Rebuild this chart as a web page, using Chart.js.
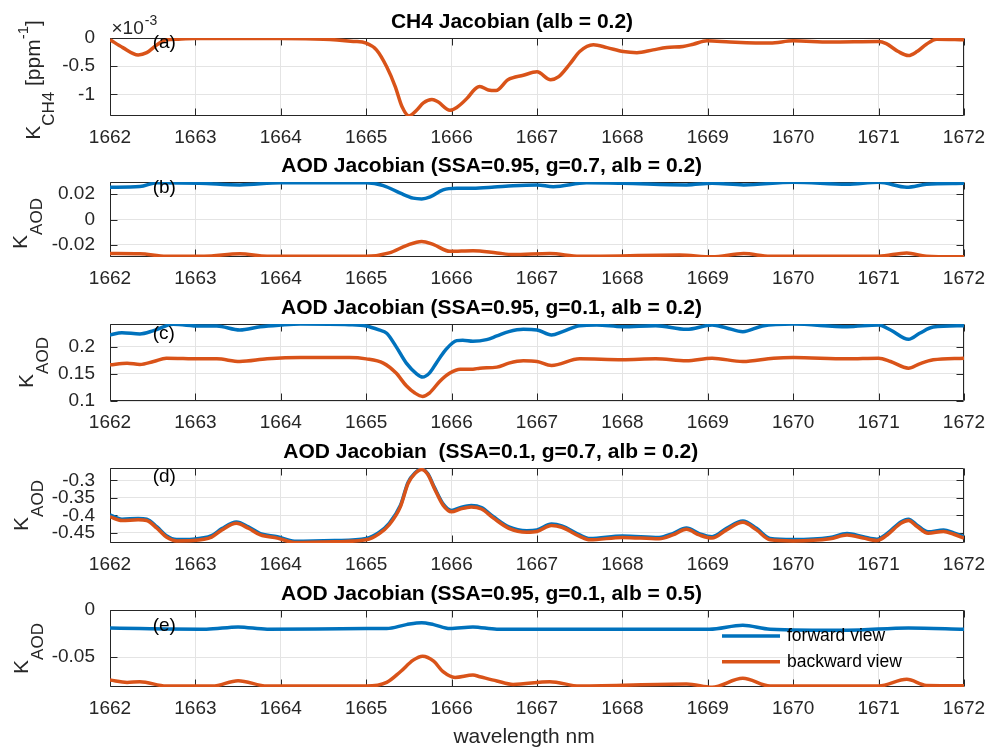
<!DOCTYPE html>
<html>
<head>
<meta charset="utf-8">
<title>CH4 and AOD Jacobians</title>
<script src="https://cdn.jsdelivr.net/npm/chart.js@4.4.1/dist/chart.umd.min.js"></script>
<style>
  html, body { margin: 0; padding: 0; background: #fff; }
  #fig { position: relative; width: 985px; height: 751px; overflow: hidden; background: #fff; }
  #fig canvas { position: absolute; left: 0; }
</style>
</head>
<body>
<div id="fig"></div>
<script>
// ---------------------------------------------------------------
// Data: wavelength (nm) and Jacobian values for each panel
// ---------------------------------------------------------------

// (a) CH4 Jacobian, alb = 0.2  (units of 1e-3 ppm^-1)
const waveA = [1662.0, 1662.15, 1662.33, 1662.43, 1662.55, 1662.66, 1662.8, 1663.0, 1663.5, 1664.0,
  1664.5, 1664.85, 1665.0, 1665.12, 1665.24, 1665.34, 1665.42, 1665.5, 1665.59, 1665.67,
  1665.77, 1665.84, 1665.98, 1666.06, 1666.18, 1666.27, 1666.33, 1666.43, 1666.52, 1666.66,
  1666.84, 1667.0, 1667.16, 1667.25, 1667.39, 1667.5, 1667.66, 1667.82, 1668.01, 1668.17,
  1668.36, 1668.52, 1668.71, 1668.83, 1668.99, 1669.26, 1669.73, 1670.0, 1670.43, 1671.0,
  1671.09, 1671.23, 1671.35, 1671.45, 1671.56, 1671.68, 1672.0];
const ch4Back = [-0.03, -0.17, -0.30, -0.26, -0.12, -0.03, -0.02, -0.01, -0.01, -0.01,
  -0.02, -0.06, -0.09, -0.21, -0.51, -0.86, -1.22, -1.38, -1.28, -1.15,
  -1.09, -1.13, -1.28, -1.23, -1.07, -0.91, -0.86, -0.92, -0.93, -0.74,
  -0.66, -0.60, -0.74, -0.69, -0.45, -0.24, -0.12, -0.17, -0.24, -0.26,
  -0.21, -0.17, -0.15, -0.11, -0.05, -0.07, -0.09, -0.05, -0.07, -0.06,
  -0.10, -0.24, -0.31, -0.24, -0.11, -0.02, -0.03];
const ticksA = [-1, -0.5, 0];

// (b) AOD Jacobian, SSA=0.95, g=0.7, alb=0.2
const waveB_fwd = [1662.0, 1662.35, 1662.55, 1663.05, 1663.52, 1664.0, 1665.0, 1665.2, 1665.4, 1665.55,
  1665.65, 1665.75, 1665.9, 1666.06, 1666.25, 1666.5, 1666.72, 1667.0, 1667.19, 1667.58,
  1668.0, 1668.75, 1669.05, 1669.42, 1670.0, 1670.63, 1671.0, 1671.33, 1671.56, 1672.0];
const aodB_fwd = [0.0255, 0.026, 0.029, 0.0286, 0.0273, 0.029, 0.029, 0.0268, 0.0208, 0.0169,
  0.0163, 0.0179, 0.0234, 0.0246, 0.0246, 0.0256, 0.0267, 0.0273, 0.0259, 0.029,
  0.0286, 0.0273, 0.0286, 0.0273, 0.0294, 0.0278, 0.0294, 0.0255, 0.0278, 0.0286];
const waveB_bwd = [1662.0, 1662.35, 1662.66, 1663.1, 1663.52, 1663.84, 1665.0, 1665.27, 1665.47, 1665.65,
  1665.79, 1665.98, 1666.25, 1666.53, 1666.72, 1667.15, 1667.5, 1668.67, 1669.05, 1669.42,
  1669.73, 1671.0, 1671.33, 1671.56, 1672.0];
const aodB_bwd = [-0.0268, -0.027, -0.0289, -0.0289, -0.027, -0.0289, -0.0289, -0.0263, -0.0205, -0.0172,
  -0.0198, -0.025, -0.0245, -0.0263, -0.0276, -0.0268, -0.0289, -0.028, -0.0294, -0.0268,
  -0.0289, -0.0289, -0.0263, -0.0289, -0.0294];
const ticksB = [-0.02, 0, 0.02];

// (c) AOD Jacobian, SSA=0.95, g=0.1, alb=0.2
const waveC_fwd = [1662.0, 1662.14, 1662.35, 1662.51, 1662.74, 1663.05, 1663.25, 1663.52, 1663.76, 1664.0,
  1664.23, 1664.8, 1665.0, 1665.15, 1665.24, 1665.35, 1665.47, 1665.59, 1665.66, 1665.74,
  1665.82, 1665.93, 1666.06, 1666.13, 1666.25, 1666.41, 1666.53, 1666.67, 1666.84, 1667.0,
  1667.17, 1667.3, 1667.5, 1667.7, 1668.0, 1668.39, 1668.75, 1669.05, 1669.21, 1669.41,
  1669.64, 1670.0, 1670.63, 1671.0, 1671.14, 1671.35, 1671.48, 1671.64, 1672.0];
const aodC_fwd = [0.2214, 0.2257, 0.2233, 0.2293, 0.241, 0.2379, 0.2379, 0.2306, 0.2366, 0.2397,
  0.2415, 0.2403, 0.2379, 0.2306, 0.2245, 0.2, 0.1696, 0.15, 0.144, 0.1513,
  0.1696, 0.194, 0.211, 0.2116, 0.2098, 0.2128, 0.2196, 0.2275, 0.2318, 0.2306,
  0.2214, 0.2275, 0.2385, 0.2397, 0.2366, 0.2385, 0.2318, 0.2397, 0.2348, 0.2275,
  0.2379, 0.2415, 0.2366, 0.2397, 0.2306, 0.2135, 0.2245, 0.236, 0.2385];
const waveC_bwd = [1662.0, 1662.2, 1662.35, 1662.51, 1662.66, 1663.05, 1663.25, 1663.52, 1663.84, 1664.23,
  1664.8, 1665.0, 1665.2, 1665.35, 1665.47, 1665.57, 1665.66, 1665.74, 1665.86, 1665.98,
  1666.1, 1666.25, 1666.33, 1666.53, 1666.67, 1666.84, 1667.0, 1667.17, 1667.5, 1668.0,
  1668.39, 1668.75, 1669.05, 1669.41, 1669.77, 1670.0, 1670.63, 1671.0, 1671.14, 1671.35,
  1671.48, 1671.64, 1672.0];
const aodC_bwd = [0.1665, 0.1696, 0.1671, 0.1726, 0.1787, 0.1775, 0.1775, 0.1726, 0.1775, 0.18,
  0.18, 0.1775, 0.1696, 0.1513, 0.128, 0.1146, 0.1085, 0.1146, 0.1359, 0.1513,
  0.1586, 0.1586, 0.1604, 0.1623, 0.1696, 0.1739, 0.1726, 0.1653, 0.1775, 0.1757,
  0.1775, 0.1739, 0.1787, 0.1726, 0.1787, 0.18, 0.1775, 0.1787, 0.1726, 0.1604,
  0.1684, 0.1757, 0.1787];
const ticksC = [0.1, 0.15, 0.2];

// (d) AOD Jacobian, SSA=0.1, g=0.7, alb=0.2
const waveD = [1662.0, 1662.14, 1662.33, 1662.43, 1662.55, 1662.66, 1662.78, 1662.97, 1663.19, 1663.31,
  1663.48, 1663.62, 1663.76, 1663.96, 1664.16, 1664.63, 1665.0, 1665.15, 1665.27, 1665.4,
  1665.49, 1665.57, 1665.65, 1665.72, 1665.8, 1665.9, 1666.0, 1666.1, 1666.23, 1666.35,
  1666.49, 1666.67, 1666.88, 1667.0, 1667.17, 1667.29, 1667.5, 1667.62, 1668.0, 1668.43,
  1668.59, 1668.75, 1668.9, 1669.05, 1669.22, 1669.41, 1669.57, 1669.73, 1670.0, 1670.43,
  1670.63, 1670.82, 1670.98, 1671.1, 1671.26, 1671.35, 1671.45, 1671.58, 1671.76, 1671.88,
  1672.0];
const aodD_fwd = [-0.399, -0.411, -0.409, -0.411, -0.433, -0.458, -0.469, -0.468, -0.458, -0.438,
  -0.419, -0.433, -0.452, -0.461, -0.474, -0.472, -0.466, -0.449, -0.423, -0.372,
  -0.306, -0.279, -0.268, -0.281, -0.321, -0.367, -0.386, -0.378, -0.372, -0.378,
  -0.404, -0.433, -0.444, -0.442, -0.425, -0.430, -0.456, -0.466, -0.459, -0.463,
  -0.452, -0.436, -0.452, -0.461, -0.437, -0.416, -0.437, -0.466, -0.469, -0.463,
  -0.452, -0.461, -0.468, -0.452, -0.419, -0.411, -0.428, -0.447, -0.442, -0.450,
  -0.461];
const aodD_bwd = [-0.404, -0.415, -0.413, -0.415, -0.437, -0.462, -0.473, -0.472, -0.462, -0.442,
  -0.423, -0.437, -0.456, -0.465, -0.4775, -0.4755, -0.47, -0.453, -0.427, -0.376,
  -0.309, -0.281, -0.269, -0.283, -0.324, -0.371, -0.39, -0.382, -0.376, -0.382,
  -0.408, -0.437, -0.448, -0.446, -0.429, -0.434, -0.46, -0.47, -0.463, -0.467,
  -0.456, -0.44, -0.456, -0.465, -0.4415, -0.42, -0.4415, -0.47, -0.473, -0.467,
  -0.456, -0.465, -0.472, -0.456, -0.423, -0.415, -0.432, -0.451, -0.446, -0.454,
  -0.465];
const ticksD = [-0.45, -0.4, -0.35, -0.3];

// (e) AOD Jacobian, SSA=0.95, g=0.1, alb=0.5
const waveE_fwd = [1662.0, 1662.35, 1663.13, 1663.5, 1663.84, 1665.0, 1665.24, 1665.47, 1665.65, 1665.79,
  1665.98, 1666.25, 1666.53, 1666.72, 1669.02, 1669.41, 1669.73, 1670.63, 1671.35, 1672.0];
const aodE_fwd = [-0.019, -0.0197, -0.0204, -0.018, -0.0204, -0.0197, -0.0197, -0.0155, -0.0134, -0.0155,
  -0.0197, -0.018, -0.0204, -0.0204, -0.0204, -0.0162, -0.0204, -0.0215, -0.019, -0.0204];
const waveE_bwd = [1662.0, 1662.2, 1662.35, 1662.66, 1663.2, 1663.5, 1663.84, 1665.0, 1665.24, 1665.4,
  1665.55, 1665.66, 1665.79, 1665.9, 1666.04, 1666.25, 1666.33, 1666.53, 1666.72, 1667.15,
  1667.5, 1668.75, 1669.05, 1669.41, 1669.73, 1671.0, 1671.33, 1671.56, 1672.0];
const aodE_bwd = [-0.0743, -0.0768, -0.076, -0.0807, -0.0807, -0.075, -0.0807, -0.0807, -0.0768, -0.0655,
  -0.0532, -0.049, -0.0543, -0.0655, -0.0715, -0.069, -0.0708, -0.0753, -0.079, -0.076,
  -0.0807, -0.0786, -0.082, -0.0725, -0.0807, -0.0807, -0.0736, -0.08, -0.0803];
const ticksE = [-0.05, 0];

const seriesNames = ['forward view', 'backward view'];

// ---------------------------------------------------------------
// Styling
// ---------------------------------------------------------------
const FONT = '"Liberation Sans", Arial, Helvetica, sans-serif';
const INK = '#262626';
const GRID = '#e4e4e4';
const BLUE = '#0072BD';
const ORANGE = '#D95319';
const LINE_W = 3.5;
const PLOT_LEFT = 110;
const PLOT_RIGHT = 964;
const HEAD = 45;     // canvas space above each axes box
const FOOT = 80;     // canvas space below each axes box
const TICK_LEN = 7;

Chart.defaults.font.family = FONT;
Chart.defaults.color = INK;

const fwd = (x, y) => ({ x, y, color: BLUE, order: 1 });
const bwd = (x, y) => ({ x, y, color: ORANGE, order: 0 });

const subK = (sub) => [['K', 21, 0], [sub, 17, 15]];

const panels = [
  { top: 38, bottom: 116, yMin: -1.382, yMax: 0, yTicks: ticksA,
    series: [bwd(waveA, ch4Back)],
    title: 'CH4 Jacobian (alb = 0.2)', titleX: 512,
    tag: '(a)', tagY: -0.084,
    ylabel: [['K', 21, 0], ['CH4', 17, 14], [' [ppm', 21, 0], ['-1', 15, -12], [']', 21, 0]],
    ylabelX: 39.5, ylabelShift: 3, exponent: true },
  { top: 182, bottom: 257, yMin: -0.0295, yMax: 0.0296, yTicks: ticksB,
    series: [fwd(waveB_fwd, aodB_fwd), bwd(waveB_bwd, aodB_bwd)],
    title: 'AOD Jacobian (SSA=0.95, g=0.7, alb = 0.2)', titleX: 491.7,
    tag: '(b)', tagY: 0.0253, ylabel: subK('AOD'), ylabelX: 27, ylabelShift: 4 },
  { top: 324, bottom: 401, yMin: 0.1, yMax: 0.2416, yTicks: ticksC,
    series: [fwd(waveC_fwd, aodC_fwd), bwd(waveC_bwd, aodC_bwd)],
    title: 'AOD Jacobian (SSA=0.95, g=0.1, alb = 0.2)', titleX: 491.5,
    tag: '(c)', tagY: 0.2233, ylabel: subK('AOD'), ylabelX: 33, ylabelShift: 0 },
  { top: 468, bottom: 543, yMin: -0.479, yMax: -0.265, yTicks: ticksD,
    series: [fwd(waveD, aodD_fwd), bwd(waveD, aodD_bwd)],
    title: 'AOD Jacobian  (SSA=0.1, g=0.7, alb = 0.2)', titleX: 490.7,
    tag: '(d)', tagY: -0.290, ylabel: subK('AOD'), ylabelX: 28, ylabelShift: 0 },
  { top: 610, bottom: 687, yMin: -0.0817, yMax: 0, yTicks: ticksE,
    series: [fwd(waveE_fwd, aodE_fwd), bwd(waveE_bwd, aodE_bwd)],
    title: 'AOD Jacobian (SSA=0.95, g=0.1, alb = 0.5)', titleX: 491.5,
    tag: '(e)', tagY: -0.0172, ylabel: subK('AOD'), ylabelX: 28, ylabelShift: 0,
    legend: true, xlabel: 'wavelength nm', xlabelX: 524 }
];

const fmt = (v) => String(+(+v).toFixed(4));

// Draws a run of text pieces (with raised / lowered parts), rotated to read upward.
function drawRotatedRich(ctx, parts, bx, cy) {
  ctx.save();
  ctx.translate(bx, cy);
  ctx.rotate(-Math.PI / 2);
  ctx.textAlign = 'left';
  ctx.textBaseline = 'alphabetic';
  ctx.fillStyle = INK;
  let total = 0;
  parts.forEach(([t, sz]) => { ctx.font = `${sz}px ${FONT}`; total += ctx.measureText(t).width; });
  let u = -total / 2;
  parts.forEach(([t, sz, dv]) => {
    ctx.font = `${sz}px ${FONT}`;
    ctx.fillText(t, u, dv);
    u += ctx.measureText(t).width;
  });
  ctx.restore();
}

// Boxed axes with inward ticks on all four sides, plus titles and labels.
const axesBox = {
  id: 'axesBox',
  beforeDatasetsDraw(chart) {
    const { ctx, chartArea: a, scales: { x, y } } = chart;
    const L = Math.round(a.left) + 0.5, R = Math.round(a.right) - 0.5;
    const T = Math.round(a.top) + 0.5, B = Math.round(a.bottom) - 0.5;
    ctx.save();
    ctx.strokeStyle = INK;
    ctx.lineWidth = 1;
    ctx.beginPath();
    x.ticks.forEach(t => {
      const p = Math.round(x.getPixelForValue(t.value)) + 0.5;
      ctx.moveTo(p, B); ctx.lineTo(p, B - TICK_LEN);
      ctx.moveTo(p, T); ctx.lineTo(p, T + TICK_LEN);
    });
    y.ticks.forEach(t => {
      const p = Math.round(y.getPixelForValue(t.value)) + 0.5;
      ctx.moveTo(L, p); ctx.lineTo(L + TICK_LEN, p);
      ctx.moveTo(R, p); ctx.lineTo(R - TICK_LEN, p);
    });
    ctx.rect(L, T, R - L, B - T);
    ctx.stroke();
    ctx.restore();
  },
  afterDraw(chart, args, p) {
    const { ctx, chartArea: a, scales: { x, y } } = chart;
    ctx.save();
    // title
    ctx.fillStyle = '#000';
    ctx.font = `bold 21px ${FONT}`;
    ctx.textAlign = 'center';
    ctx.textBaseline = 'alphabetic';
    ctx.fillText(p.title, p.titleX, a.top - 10.5);
    // panel tag
    ctx.font = `19px ${FONT}`;
    ctx.textAlign = 'left';
    ctx.textBaseline = 'middle';
    ctx.fillText(p.tag, x.getPixelForValue(1662.5), y.getPixelForValue(p.tagY));
    // exponent marker
    if (p.exponent) {
      ctx.fillStyle = INK;
      ctx.textBaseline = 'alphabetic';
      ctx.font = `19px ${FONT}`;
      ctx.fillText('\u00d710', a.left + 1.5, a.top - 4);
      const w = ctx.measureText('\u00d710').width;
      ctx.font = `14px ${FONT}`;
      ctx.fillText('-3', a.left + 2.5 + w, a.top - 13.5);
    }
    // legend
    if (p.legend) {
      const rows = [[BLUE, seriesNames[0], 26], [ORANGE, seriesNames[1], 51.7]];
      ctx.font = `17.5px ${FONT}`;
      ctx.textBaseline = 'middle';
      rows.forEach(([c, label, dy]) => {
        ctx.strokeStyle = c;
        ctx.lineWidth = LINE_W;
        ctx.beginPath();
        ctx.moveTo(a.left + 612, a.top + dy);
        ctx.lineTo(a.left + 670, a.top + dy);
        ctx.stroke();
        ctx.fillStyle = '#000';
        ctx.fillText(label, a.left + 677, a.top + dy);
      });
    }
    // x label
    if (p.xlabel) {
      ctx.fillStyle = INK;
      ctx.font = `21px ${FONT}`;
      ctx.textAlign = 'center';
      ctx.textBaseline = 'alphabetic';
      ctx.fillText(p.xlabel, p.xlabelX, a.bottom + 56);
    }
    ctx.restore();
    // y label
    drawRotatedRich(ctx, p.ylabel, p.ylabelX, (a.top + a.bottom) / 2 + p.ylabelShift);
  }
};

const fig = document.getElementById('fig');

panels.forEach(p => {
  const h = HEAD + (p.bottom - p.top) + FOOT;
  const c = document.createElement('canvas');
  c.width = 985; c.height = h;
  c.style.width = '985px'; c.style.height = h + 'px';
  c.style.top = (p.top - HEAD) + 'px';
  fig.appendChild(c);

  new Chart(c, {
    type: 'line',
    data: {
      datasets: p.series.map((s) => ({
        label: s.color === BLUE ? seriesNames[0] : seriesNames[1],
        data: s.x.map((w, k) => ({ x: w, y: s.y[k] })),
        borderColor: s.color,
        borderWidth: LINE_W,
        pointRadius: 0,
        fill: false,
        cubicInterpolationMode: 'monotone',
        clip: 0,
        order: s.order
      }))
    },
    options: {
      responsive: false,
      animation: false,
      devicePixelRatio: 1,
      events: [],
      layout: { padding: { top: HEAD, right: 985 - PLOT_RIGHT, bottom: 0, left: 0 } },
      plugins: {
        legend: { display: false },
        tooltip: { enabled: false },
        title: { display: false },
        axesBox: p
      },
      scales: {
        x: {
          type: 'linear', min: 1662, max: 1672,
          ticks: { stepSize: 1, autoSkip: false, maxRotation: 0, padding: 10,
                   font: { size: 19 }, color: INK, callback: v => String(v) },
          grid: { color: GRID, lineWidth: 1, drawTicks: false },
          border: { display: false },
          afterFit: s => { s.height = FOOT; s.paddingLeft = 0; s.paddingRight = 0; }
        },
        y: {
          type: 'linear', min: p.yMin, max: p.yMax,
          afterBuildTicks: s => { s.ticks = p.yTicks.map(v => ({ value: v })); },
          ticks: { autoSkip: false, padding: 15, font: { size: 19 }, color: INK, callback: fmt },
          grid: { color: GRID, lineWidth: 1, drawTicks: false },
          border: { display: false },
          afterFit: s => { s.width = PLOT_LEFT; s.paddingTop = 0; s.paddingBottom = 0; }
        }
      }
    },
    plugins: [axesBox]
  });
});
</script>
</body>
</html>
